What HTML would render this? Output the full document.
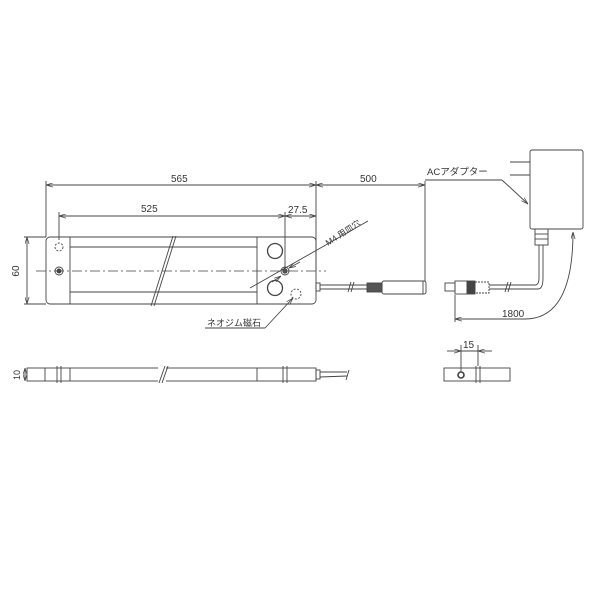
<!DOCTYPE html>
<html><head><meta charset="utf-8"><style>
html,body{margin:0;padding:0;background:#fff}
svg{display:block}
text{font-family:"Liberation Sans","Noto Sans CJK JP",sans-serif;fill:#333}
</style></head><body>
<svg width="600" height="600" viewBox="0 0 600 600" xmlns="http://www.w3.org/2000/svg">
<defs>
<marker id="a" viewBox="0 0 10 6" refX="10" refY="3" markerWidth="8" markerHeight="5" orient="auto-start-reverse"><path d="M0,0 L10,3 L0,6" fill="none" stroke="#444" stroke-width="1"/></marker>
</defs>
<g stroke="#444" stroke-width="0.9" fill="none">
<rect x="46" y="237" width="270" height="67" rx="4"/>
<line x1="70" y1="237" x2="70" y2="304"/>
<line x1="257" y1="237" x2="257" y2="304"/>
<line x1="70" y1="247" x2="257" y2="247"/>
<line x1="70" y1="292" x2="257" y2="292"/>
<line x1="36" y1="271" x2="326" y2="271" stroke-dasharray="10,3,2,3" stroke-width="0.7"/>
<circle cx="59" cy="247" r="4" stroke-dasharray="2,1.5"/>
<circle cx="59" cy="271" r="4"/><circle cx="59" cy="271" r="2" fill="#444"/>
<circle cx="275" cy="251" r="7.5" stroke-width="1.3"/>
<circle cx="275" cy="288" r="7.5" stroke-width="1.3"/>
<circle cx="285" cy="271" r="4"/><circle cx="285" cy="271" r="2.2" fill="#555"/>
<circle cx="296" cy="294" r="5" stroke-dasharray="2,1.5"/>
<line x1="173" y1="236" x2="151" y2="306"/><line x1="176" y1="236" x2="154" y2="306"/>
<line x1="46" y1="237" x2="46" y2="181"/>
<line x1="316" y1="270" x2="316" y2="181"/>
<line x1="46" y1="185" x2="316" y2="185" marker-start="url(#a)" marker-end="url(#a)"/>
<line x1="59" y1="240" x2="59" y2="212"/>
<line x1="285" y1="268" x2="285" y2="212"/>
<line x1="59" y1="216" x2="285" y2="216" marker-start="url(#a)" marker-end="url(#a)"/>
<line x1="285" y1="216" x2="316" y2="216" marker-start="url(#a)" marker-end="url(#a)"/>
<line x1="24" y1="237" x2="46" y2="237"/><line x1="24" y1="304" x2="46" y2="304"/>
<line x1="27" y1="237" x2="27" y2="304" marker-start="url(#a)" marker-end="url(#a)"/>
<line x1="316" y1="185" x2="425" y2="185" marker-start="url(#a)" marker-end="url(#a)"/>
<line x1="425" y1="181" x2="425" y2="281"/>
<line x1="250" y1="288" x2="368" y2="221"/>
<line x1="272" y1="282" x2="281" y2="276" marker-end="url(#a)"/>
<line x1="300" y1="262" x2="289" y2="268" marker-end="url(#a)"/>
<line x1="205" y1="328" x2="265" y2="328"/>
<line x1="265" y1="328" x2="293" y2="298" marker-end="url(#a)"/>
<rect x="316" y="283" width="4" height="8"/>
<line x1="320" y1="285" x2="367" y2="285"/><line x1="320" y1="289" x2="367" y2="289"/>
<line x1="348" y1="292" x2="351" y2="282"/><line x1="351" y1="292" x2="354" y2="282"/>
<rect x="367" y="283" width="15" height="9" fill="#555"/>
<rect x="382" y="281" width="44" height="13" rx="2"/>
<line x1="423" y1="281" x2="423" y2="294"/>
<rect x="445" y="283" width="10" height="8"/>
<rect x="455" y="281" width="12" height="13"/>
<rect x="467" y="281" width="8" height="13" fill="#444"/>
<rect x="475" y="282" width="14" height="11" stroke-dasharray="2,1"/>
<line x1="489" y1="285" x2="535" y2="285"/><line x1="489" y1="289" x2="538" y2="289"/>
<line x1="505" y1="292" x2="508" y2="282"/><line x1="508" y1="292" x2="511" y2="282"/>
<path d="M535,285 Q539,285 539,278 L539,245"/>
<path d="M538,289 Q543,289 543,278 L543,245"/>
<rect x="535" y="229" width="13" height="16"/>
<line x1="535" y1="234" x2="548" y2="234"/><line x1="535" y1="239" x2="548" y2="239"/>
<rect x="530" y="150" width="53" height="79" rx="2"/>
<line x1="510" y1="162" x2="530" y2="162"/><line x1="510" y1="175" x2="530" y2="175"/>
<line x1="425" y1="180" x2="502" y2="180"/>
<line x1="502" y1="180" x2="528" y2="204" marker-end="url(#a)"/>
<line x1="455" y1="295" x2="455" y2="322"/>
<path d="M455,319 L525,319 Q573,319 573,232" marker-start="url(#a)" marker-end="url(#a)"/>
<!-- side view -->
<rect x="27" y="368" width="289" height="13"/>
<line x1="45" y1="368" x2="45" y2="381"/>
<line x1="70" y1="368" x2="70" y2="381"/><line x1="257" y1="368" x2="257" y2="381"/>
<line x1="57" y1="366" x2="57" y2="383"/><line x1="61" y1="366" x2="61" y2="383"/>
<line x1="283" y1="366" x2="283" y2="383"/><line x1="287" y1="366" x2="287" y2="383"/>
<rect x="158" y="366" width="8" height="17" fill="#fff" stroke="none"/>
<line x1="165" y1="366" x2="159" y2="383"/><line x1="168" y1="366" x2="162" y2="383"/>
<rect x="316" y="370" width="4" height="9"/>
<line x1="320" y1="372" x2="347" y2="372"/><line x1="320" y1="377" x2="347" y2="376"/>
<line x1="349" y1="370" x2="346" y2="380"/>
<line x1="25" y1="368" x2="25" y2="381" marker-start="url(#a)" marker-end="url(#a)"/>
<!-- end view -->
<rect x="444" y="368" width="66" height="13"/>
<circle cx="461" cy="375" r="3" stroke-width="1.6"/>
<line x1="476" y1="366" x2="476" y2="383"/><line x1="480" y1="366" x2="480" y2="383"/>
<line x1="461" y1="345" x2="461" y2="372"/><line x1="478" y1="345" x2="478" y2="366"/>
<line x1="447" y1="351" x2="461" y2="351" marker-end="url(#a)"/>
<line x1="492" y1="351" x2="478" y2="351" marker-end="url(#a)"/>
<line x1="461" y1="351" x2="478" y2="351"/>
</g>
<g font-size="10">
<text x="171" y="182">565</text>
<text x="141" y="212">525</text>
<text x="288" y="213">27.5</text>
<text x="19" y="271" transform="rotate(-90 19 271)" text-anchor="middle">60</text>
<text x="360" y="182">500</text>
<text x="427" y="175" font-size="9.5">ACアダプター</text>
<text x="502" y="317">1800</text>
<text x="207" y="326" font-size="9">ネオジム磁石</text>
<text x="328" y="246" font-size="8.5" transform="rotate(-33 328 246)">M4 用皿穴</text>
<text x="20" y="375" font-size="9" transform="rotate(-90 20 375)" text-anchor="middle">10</text>
<text x="463" y="348" font-size="10">15</text>
</g>
</svg>
</body></html>
